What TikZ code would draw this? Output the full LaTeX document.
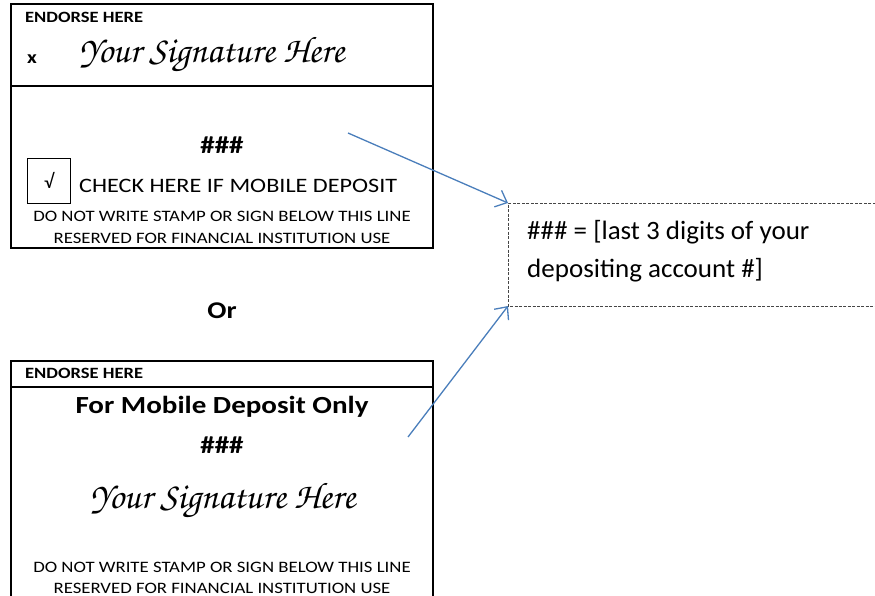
\documentclass[tikz,border=0pt]{standalone}
\usepackage{graphicx}
\usepackage{fontspec}
\setmainfont{Carlito}
\newfontfamily\sigfont{TeX Gyre Chorus}
\usetikzlibrary{arrows.meta}
\newcommand\stretchtxt[1]{\scalebox{1.18}[1]{#1}}
\tikzset{
  frame/.style={draw=black,line width=1.6pt},
  lbl/.style={inner sep=0pt,anchor=base west},
  ctr/.style={inner sep=0pt,anchor=base},
  small/.style={font=\fontsize{15.7}{19}\selectfont\bfseries},
  fine/.style={font=\fontsize{15.9}{19}\selectfont},
  big/.style={font=\fontsize{20.5}{25}\selectfont},
  bigb/.style={font=\fontsize{24.6}{29}\selectfont\bfseries},
  hashb/.style={font=\fontsize{24.5}{29}\selectfont\bfseries},
  sig/.style={font=\fontsize{37}{40}\selectfont\sigfont},
  note/.style={font=\fontsize{26.5}{32}\selectfont},
  pointer/.style={draw={rgb,255:red,74;green,126;blue,187},line width=1.3pt,-{Straight Barb[length=10pt,width=18pt,line width=1.3pt]}},
}
\begin{document}
\begin{tikzpicture}[x=1pt,y=-1pt]
\useasboundingbox (0,0) rectangle (875,596);
% top endorsement box
\draw[frame] (11,4) rectangle (433,248);
\draw[frame] (11,86) -- (433,86);
\node[lbl,small] (e1) at (25,23) {\stretchtxt{ENDORSE HERE}};
\node[lbl,font=\fontsize{18}{22}\selectfont\bfseries] (x1) at (27,64) {\stretchtxt{x}};
\node[ctr,sig] (s1) at (212,63) {Your Signature Here};
\node[ctr,hashb] (h1) at (222,154) {\stretchtxt{\#\#\#}};
\node[draw,line width=0.8pt,minimum width=43pt,minimum height=45pt,inner sep=0pt] (cb) at (49,180.5) {};
\node[inner sep=0pt,font=\fontsize{20}{22}\selectfont] (ck) at (cb.center) {√};
\node[lbl,big] (c1) at (79,193) {\stretchtxt{CHECK HERE IF MOBILE DEPOSIT}};
\node[ctr,fine] (d1) at (222,222) {\stretchtxt{DO NOT WRITE STAMP OR SIGN BELOW THIS LINE}};
\node[ctr,fine] (r1) at (222,243.5) {\stretchtxt{RESERVED FOR FINANCIAL INSTITUTION USE}};
% or
\node[ctr,font=\fontsize{24}{29}\selectfont\bfseries] (or) at (222,318) {\stretchtxt{Or}};
% bottom endorsement box
\draw[frame] (11,600) -- (11,361) -- (433,361) -- (433,600);
\draw[frame] (11,387) -- (433,387);
\node[lbl,small] (e2) at (25,378) {\stretchtxt{ENDORSE HERE}};
\node[ctr,bigb] (m2) at (222,413) {\stretchtxt{For Mobile Deposit Only}};
\node[ctr,hashb] (h2) at (222,453) {\stretchtxt{\#\#\#}};
\node[ctr,sig] (s2) at (223,508) {Your Signature Here};
\node[ctr,fine] (d2) at (222,572) {\stretchtxt{DO NOT WRITE STAMP OR SIGN BELOW THIS LINE}};
\node[ctr,fine] (r2) at (222,593) {\stretchtxt{RESERVED FOR FINANCIAL INSTITUTION USE}};
% note box
\draw[draw={rgb,255:red,70;green,70;blue,70},line width=0.9pt,dash pattern=on 3pt off 1.5pt] (880,203) -- (508,203) -- (508,306) -- (880,306);
\coordinate (nt) at (508,203);
\coordinate (nb) at (508,306);
\node[lbl,note] (n1) at (527,239) {\scalebox{1.02}[1]{\#\#\# = [last 3 digits of your}};
\node[lbl,note] (n2) at (527,277) {\scalebox{1.02}[1]{depositing account \#]}};
% pointers
\coordinate (p1) at (348,133);
\coordinate (p2) at (408,437);
\draw[pointer] (p1) -- (nt);
\draw[pointer] (p2) -- (nb);
\end{tikzpicture}
\end{document}
